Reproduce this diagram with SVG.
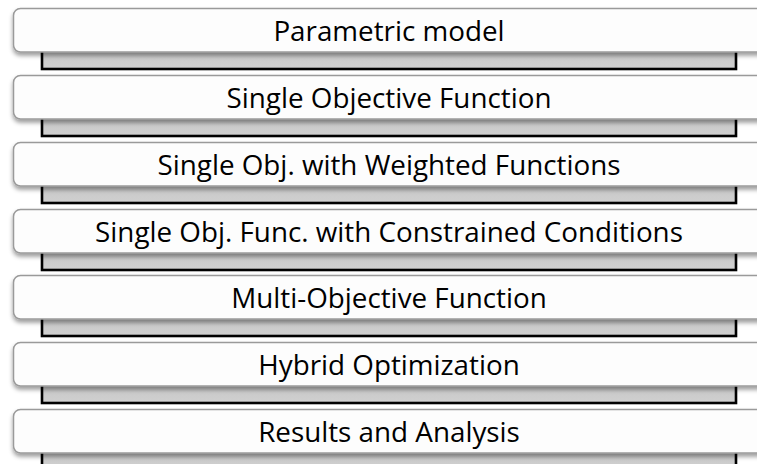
<svg xmlns="http://www.w3.org/2000/svg" width="757" height="464" viewBox="0 0 757 464">
<defs>
<linearGradient id="barg" x1="0" y1="0" x2="0" y2="1">
<stop offset="0" stop-color="#b8b8b8"/>
<stop offset="0.5" stop-color="#c8c8c8"/>
<stop offset="1" stop-color="#d0d0d0"/>
</linearGradient>
<filter id="sh" x="-5%" y="-30%" width="110%" height="170%">
<feDropShadow dx="0" dy="3" stdDeviation="2.2" flood-color="#000" flood-opacity="0.38"/>
</filter>
</defs>
<style>
.bar{fill:url(#barg);stroke:#000;stroke-width:2.6}
.box{fill:#fdfdfd;stroke:#9a9a9a;stroke-width:1.5;filter:url(#sh)}
.lbl{font-family:"Open Sans","Liberation Sans",sans-serif;font-size:27.8px;fill:#000;text-anchor:middle}
</style>
<rect width="757" height="464" fill="#ffffff"/>
<g id="node1" transform="translate(0,8)">
<rect class="bar" x="42" y="28" width="694" height="33"/>
<rect class="box" x="13.5" y="0.5" width="760" height="43.5" rx="7"/>
<text class="lbl" x="389" y="33">Parametric model</text>
</g>
<g id="node2" transform="translate(0,75)">
<rect class="bar" x="42" y="28" width="694" height="33"/>
<rect class="box" x="13.5" y="0.5" width="760" height="43.5" rx="7"/>
<text class="lbl" x="389" y="33">Single Objective Function</text>
</g>
<g id="node3" transform="translate(0,142)">
<rect class="bar" x="42" y="28" width="694" height="33"/>
<rect class="box" x="13.5" y="0.5" width="760" height="43.5" rx="7"/>
<text class="lbl" x="389" y="33">Single Obj. with Weighted Functions</text>
</g>
<g id="node4" transform="translate(0,209)">
<rect class="bar" x="42" y="28" width="694" height="33"/>
<rect class="box" x="13.5" y="0.5" width="760" height="43.5" rx="7"/>
<text class="lbl" x="389" y="33">Single Obj. Func. with Constrained Conditions</text>
</g>
<g id="node5" transform="translate(0,275)">
<rect class="bar" x="42" y="28" width="694" height="33"/>
<rect class="box" x="13.5" y="0.5" width="760" height="43.5" rx="7"/>
<text class="lbl" x="389" y="33">Multi-Objective Function</text>
</g>
<g id="node6" transform="translate(0,342)">
<rect class="bar" x="42" y="28" width="694" height="33"/>
<rect class="box" x="13.5" y="0.5" width="760" height="43.5" rx="7"/>
<text class="lbl" x="389" y="33">Hybrid Optimization</text>
</g>
<g id="node7" transform="translate(0,409)">
<rect class="bar" x="42" y="28" width="694" height="33"/>
<rect class="box" x="13.5" y="0.5" width="760" height="43.5" rx="7"/>
<text class="lbl" x="389" y="33">Results and Analysis</text>
</g>
</svg>
